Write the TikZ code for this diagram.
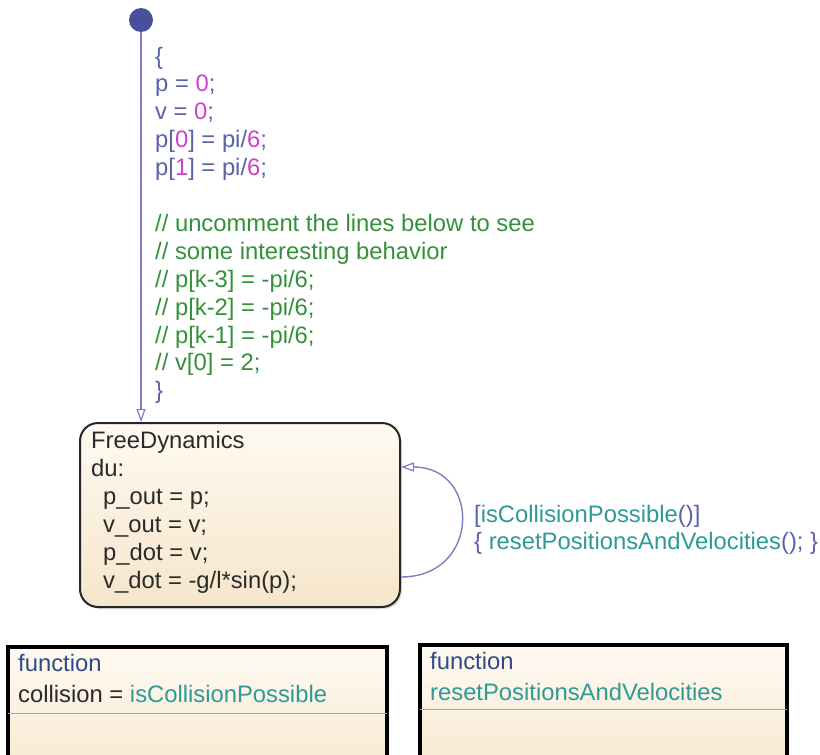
\documentclass[tikz,border=0pt]{standalone}
\usepackage{fontspec}
\setmainfont{Liberation Sans}
\usetikzlibrary{arrows.meta,shadows}
\definecolor{trblue}{HTML}{5A62AA}
\definecolor{trline}{HTML}{7A80C0}
\definecolor{dotblue}{HTML}{4A4F9C}
\definecolor{numpink}{HTML}{D040C8}
\definecolor{cmtgreen}{HTML}{34913A}
\definecolor{tealc}{HTML}{2E9A96}
\definecolor{fnblue}{HTML}{2F4A88}
\definecolor{txtdark}{HTML}{2A2A2A}
\definecolor{creamtop}{HTML}{FFFAF2}
\definecolor{creambot}{HTML}{F6E5CA}
\begin{document}
\begin{tikzpicture}[x=1pt,y=-1pt,
  codeline/.style={font=\fontsize{23.8}{28}\selectfont, inner sep=0pt, anchor=base west},
  statebox/.style={draw=black!85, line width=2pt, rounded corners=18pt,
     top color=creamtop, bottom color=creambot,
     drop shadow={shadow xshift=2pt, shadow yshift=-2pt, opacity=0.25},
     minimum width=320pt, minimum height=184pt, inner sep=0pt},
  fnbox/.style={draw=black, line width=3.5pt,
     top color=creamtop, bottom color=creambot,
     drop shadow={shadow xshift=2pt, shadow yshift=-2pt, opacity=0.25},
     inner sep=0pt},
  trans/.style={draw=trline, line width=1.4pt},
  opentip/.style={-{Triangle[open, length=13pt, width=9pt, line width=1.2pt]}}
]
\useasboundingbox (0,0) rectangle (820,755);
\clip (0,0) rectangle (820,755);
\fill[white] (0,0) rectangle (820,755);

% initial default transition
\node[circle, fill=dotblue, minimum size=24pt, inner sep=0pt] (init) at (141,20) {};

% state
\node[statebox] (free) at (240,515) {};

\draw[trans, opentip] (init.south) -- (init |- free.north);

% initial transition label
\node[codeline, text=trblue] (l0) at (155,64) {\{};
\node[codeline, text=trblue] (l1) at (155,91.9) {p = \textcolor{numpink}{0};};
\node[codeline, text=trblue] (l2) at (155,119.8) {v = \textcolor{numpink}{0};};
\node[codeline, text=trblue] (l3) at (155,147.7) {p[\textcolor{numpink}{0}] = pi/\textcolor{numpink}{6};};
\node[codeline, text=trblue] (l4) at (155,175.6) {p[\textcolor{numpink}{1}] = pi/\textcolor{numpink}{6};};
\node[codeline, text=cmtgreen] (c1) at (155,231.4) {// uncomment the lines below to see};
\node[codeline, text=cmtgreen] (c2) at (155,259.3) {// some interesting behavior};
\node[codeline, text=cmtgreen] (c3) at (155,287.2) {// p[k-3] = -pi/6;};
\node[codeline, text=cmtgreen] (c4) at (155,315.1) {// p[k-2] = -pi/6;};
\node[codeline, text=cmtgreen] (c5) at (155,343) {// p[k-1] = -pi/6;};
\node[codeline, text=cmtgreen] (c6) at (155,370.9) {// v[0] = 2;};
\node[codeline, text=trblue] (l5) at (155,398.8) {\}};

% state text
\node[codeline, text=txtdark] (s0) at (91,448) {FreeDynamics};
\node[codeline, text=txtdark] (s1) at (91,476) {du:};
\node[codeline, text=txtdark] (s2) at (103,504) {p\_out = p;};
\node[codeline, text=txtdark] (s3) at (103,532) {v\_out = v;};
\node[codeline, text=txtdark] (s4) at (103,560) {p\_dot = v;};
\node[codeline, text=txtdark] (s5) at (103,588) {v\_dot = -g/l*sin(p);};

% self loop
\coordinate (loopout) at (free.east |- 0,577);
\coordinate (loopin) at (free.east |- 0,467);
\draw[trans, opentip] (loopout) .. controls (481,577) and (481,467) .. (loopin);
\node[codeline, text=trblue] (g1) at (474,522) {[\textcolor{tealc}{isCollisionPossible}()]};
\node[codeline, text=trblue] (g2) at (474,549) {\{ \textcolor{tealc}{resetPositionsAndVelocities}(); \}};

% function boxes
\node[fnbox, minimum width=379pt, minimum height=150pt] (fn1) at (197.5,722) {};
\node[fnbox, minimum width=367pt, minimum height=150pt] (fn2) at (603.5,720) {};
\coordinate (d1) at (0,713);
\coordinate (d2) at (0,709);
\draw[draw=black!35, line width=1pt] ([xshift=1.75pt]fn1.west |- d1) -- ([xshift=-1.75pt]fn1.east |- d1);
\draw[draw=black!35, line width=1pt] ([xshift=1.75pt]fn2.west |- d2) -- ([xshift=-1.75pt]fn2.east |- d2);
\node[codeline, text=fnblue] (f1a) at (18,671) {function};
\node[codeline, text=txtdark] (f1b) at (18,702) {collision = \textcolor{tealc}{isCollisionPossible}};
\node[codeline, text=fnblue] (f2a) at (430,669) {function};
\node[codeline, text=tealc] (f2b) at (430,700) {resetPositionsAndVelocities};
\end{tikzpicture}
\end{document}
